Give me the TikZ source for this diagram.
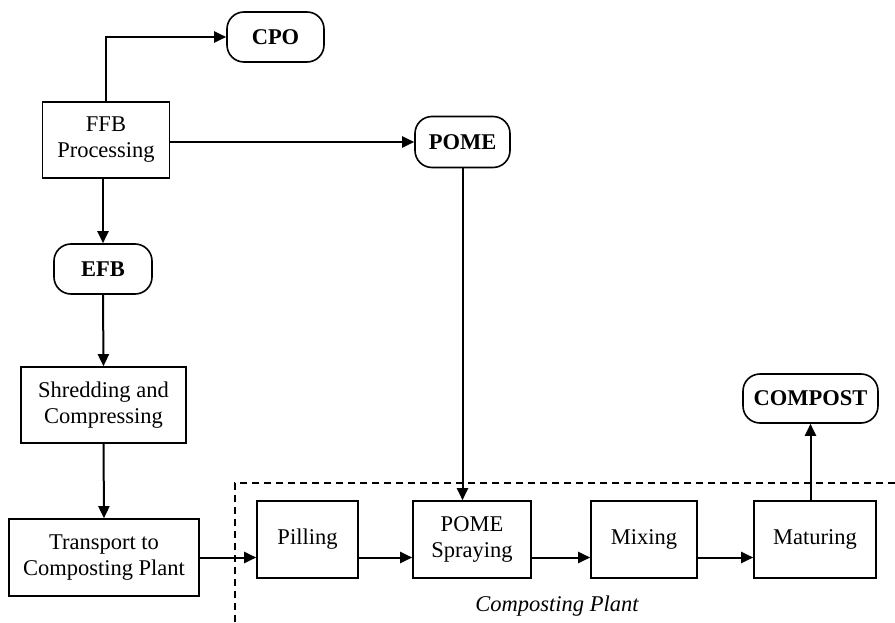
\documentclass[tikz,border=0pt]{standalone}
\usepackage{fontspec}
\setmainfont{Liberation Serif}
\usetikzlibrary{arrows.meta}
\begin{document}
\begin{tikzpicture}[x=1pt,y=-1pt,
  every node/.style={font=\fontsize{22.5}{26}\selectfont, align=center, inner sep=0pt},
  procbox/.style={draw, line width=1.6pt, minimum width=#1, minimum height=77pt},
  prodbox/.style={draw, line width=1.6pt, rounded corners=17pt, minimum width=#1, minimum height=50pt, font=\fontsize{22.5}{26}\selectfont\bfseries},
  flow/.style={line width=2pt, -{Triangle[length=12pt,width=11pt]}},
  plainflow/.style={line width=2pt}]
\useasboundingbox (0,0) rectangle (895,623);
\fill[white] (0,0) rectangle (895,623);

\node[prodbox=97pt] (cpo) at (275.5,37) {CPO};
\node[procbox=127pt, minimum height=76pt] (ffb) at (106,140) {FFB\\Processing};
\node[prodbox=95pt, minimum height=51pt] (pome) at (462.5,142) {POME};
\node[prodbox=98pt] (efb) at (103,269) {EFB};
\node[procbox=165pt, minimum height=76pt] (shred) at (103.5,405) {Shredding and\\Compressing};
\node[procbox=190pt] (trans) at (104,557.5) {Transport to\\Composting Plant};
\node[procbox=101pt] (pill) at (307.5,539.5) {Pilling};
\node[procbox=118pt] (spray) at (472,539.5) {POME\\Spraying};
\node[procbox=106pt] (mix) at (644,539.5) {Mixing};
\node[procbox=122pt] (mat) at (815,539.5) {Maturing};
\node[prodbox=135pt, minimum height=49pt] (compost) at (810.5,398.5) {COMPOST};
\node[font=\fontsize{22.5}{26}\selectfont\itshape] (cplabel) at (557,606) {Composting Plant};

\coordinate (dtl) at (235,483);
\coordinate (dtr) at (895,483);
\coordinate (dbl) at (235,623);
\draw[line width=1.5pt, dash pattern=on 7pt off 5pt] (dtr) -- (dtl) -- (dbl);

\draw[flow] (ffb.north) |- (cpo.west);
\draw[flow] (ffb.east |- pome.west) -- (pome.west);
\draw[flow] (ffb.south -| efb.north) -- (efb.north);
\draw[flow] (efb.south) -- (shred.north);
\draw[flow] (shred.south) -- (trans.north);
\draw[flow] (trans.east) -- (pill.west |- trans.east);
\draw[flow] (pill.east |- trans.east) -- (spray.west |- trans.east);
\draw[flow] (spray.east |- trans.east) -- (mix.west |- trans.east);
\draw[flow] (mix.east |- trans.east) -- (mat.west |- trans.east);
\draw[flow] (pome.south) -- (pome.south |- spray.north);
\draw[flow] (mat.north -| compost.south) -- (compost.south);
\end{tikzpicture}
\end{document}
